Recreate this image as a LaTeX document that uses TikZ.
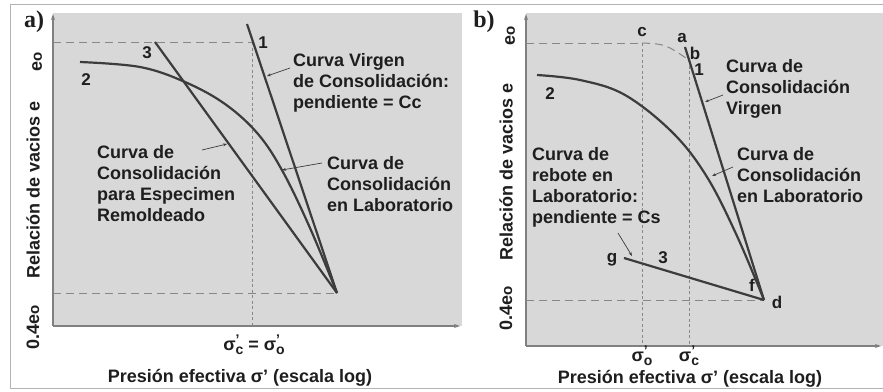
\documentclass[tikz,border=0pt]{standalone}
\usepackage{fontspec}
\setmainfont{Liberation Sans}
\newfontfamily\serifbold{Liberation Serif}
\usetikzlibrary{arrows.meta}
\definecolor{plotgray}{RGB}{216,216,216}
\definecolor{linegray}{RGB}{60,60,60}
\definecolor{dashgray}{RGB}{135,135,135}
\definecolor{textgray}{RGB}{30,30,30}
\newcommand{\smallsz}{\fontsize{14}{14}\selectfont}
\newcommand{\sigp}[1]{σ\makebox[0pt][l]{\raisebox{0.6ex}{\smallsz '}}\raisebox{-0.45ex}{\smallsz #1}}
\newcommand{\eo}{e{\fontsize{15}{15}\selectfont o}}

\begin{document}
\begin{tikzpicture}[x=1pt, y=-1pt, font=\fontsize{18}{21}\selectfont\bfseries, text=textgray,
  curve/.style={draw=linegray, line width=2.2pt},
  guide/.style={draw=dashgray, dash pattern=on 8pt off 5pt, line width=1pt},
  vguide/.style={draw=dashgray, dash pattern=on 3pt off 2.5pt, line width=0.9pt},
  pointer/.style={draw=linegray, line width=0.7pt, -{Stealth[length=4pt, width=3pt]}},
  axis/.style={draw=gray, line width=1.1pt, -{Stealth[length=6pt, width=4pt]}},
  lbl/.style={align=left, anchor=north west, inner sep=0pt},
  num/.style={inner sep=0pt, font=\fontsize{17}{19}\selectfont\bfseries},
  xlbl/.style={inner sep=0pt},
  panel/.style={inner sep=0pt, font=\fontsize{24}{26}\selectfont\serifbold\bfseries}]
\useasboundingbox (0,0) rectangle (883,391);
\fill[white] (0,0) rectangle (883,391);
\draw[gray!60, line width=0.8pt] (10,388) -- (10,4) -- (883,4);
\draw[gray!60, line width=0.8pt] (10,388) -- (883,388);

\fill[plotgray] (53,13) rectangle (462,326);
\fill[plotgray] (526,13) rectangle (883,346);

% a)
\node[panel] (pa) at (34,22) {a)};
\coordinate (oa) at (53,326);
\coordinate (ya) at (53,14);
\coordinate (xa) at (460,326);
\draw[axis] (oa) -- (ya);
\draw[axis] (oa) -- (xa);

\coordinate (ea) at (53,42);
\coordinate (eca) at (252,42);
\coordinate (sca) at (252,326);
\coordinate (la) at (53,293);
\coordinate (da) at (337,293);
\coordinate (vtopa) at (247,24);
\coordinate (rtopa) at (155,42);
\draw[guide] (ea) -- (eca);
\draw[vguide] (eca) -- (sca);
\draw[guide] (la) -- (da);

\draw[curve] (vtopa) -- (da);
\draw[curve] (rtopa) -- (da);
\draw[curve] plot[smooth, tension=0.6] coordinates {(80,62) (140,67) (185,82) (225,104) (258,134) (283,172) (310,228) (da)};

\node[num] (a1) at (263,43) {1};
\node[num] (a2) at (86,80) {2};
\node[num] (a3) at (147,53) {3};

\node[lbl] (virga) at (293,53) {Curva Virgen\\de Consolidación:\\pendiente = Cc};
\node[lbl] (remol) at (97,145) {Curva de\\Consolidación\\para Especimen\\Remoldeado};
\node[lbl] (laba) at (327,156) {Curva de\\Consolidación\\en Laboratorio};

\coordinate (pv1) at (290,68);
\coordinate (pv2) at (267,76);
\coordinate (pr1) at (202,150);
\coordinate (pr2) at (227,144);
\coordinate (pl1) at (322,163);
\coordinate (pl2) at (282,170);
\draw[pointer] (pv1) -- (pv2);
\draw[pointer] (pr1) -- (pr2);
\draw[pointer] (pl1) -- (pl2);

\node[rotate=90] (ylaba) at (33,190) {Relación de vacios e};
\node[rotate=90] (eoa) at (37,62) {\eo};
\node[rotate=90] (foura) at (33,327) {0.4\eo};
\node[xlbl] (sigsa) at (254,345) {\sigp{c} = \sigp{o}};
\node[xlbl] (xlaba) at (240,378) {Presión efectiva σ' (escala log)};

% b)
\node[panel] (pb) at (484,22) {b)};
\coordinate (ob) at (526,346);
\coordinate (yb) at (526,14);
\coordinate (xb) at (881,346);
\draw[axis] (ob) -- (yb);
\draw[axis] (ob) -- (xb);

\coordinate (eb) at (526,43);
\coordinate (pc) at (642,43);
\coordinate (pbb) at (689,60);
\coordinate (pa1) at (685,47);
\coordinate (pd) at (764,300);
\coordinate (pg) at (624,258);
\coordinate (lb) at (526,300);
\coordinate (sob) at (642,346);
\coordinate (scb) at (689,346);
\draw[guide] (eb) -- (pc);
\draw[guide] (pc) .. controls (665,44) .. (pbb);
\draw[vguide] (pc) -- (sob);
\draw[vguide] (pbb) -- (scb);
\draw[guide] (lb) -- (pd);

\draw[curve] (pa1) -- (pd);
\draw[curve] (pg) -- (pd);
\draw[curve] plot[smooth, tension=0.6] coordinates {(537,75) (580,80) (625,95) (673,133) (707,177) (737,236) (pd)};

\node[num] (lbla) at (682,38) {a};
\node[num] (lblb) at (695,53) {b};
\node[num] (b1) at (699,70) {1};
\node[num] (lblc) at (642,32) {c};
\node[num] (b2) at (550,94) {2};
\node[num] (b3) at (663,258) {3};
\node[num] (lblg) at (612,260) {g};
\node[num] (lblf) at (752,285) {f};
\node[num] (lbld) at (777,302) {d};

\node[lbl] (virgb) at (726,59) {Curva de\\Consolidación\\Virgen};
\node[lbl] (labb) at (737,147) {Curva de\\Consolidación\\en Laboratorio};
\node[lbl] (rebb) at (532,147) {Curva de\\rebote en\\Laboratorio:\\pendiente = Cs};

\coordinate (qv1) at (723,95);
\coordinate (qv2) at (705,102);
\coordinate (ql1) at (733,167);
\coordinate (ql2) at (712,176);
\coordinate (qr1) at (618,233);
\coordinate (qr2) at (632,256);
\draw[pointer] (qv1) -- (qv2);
\draw[pointer] (ql1) -- (ql2);
\draw[pointer] (qr1) -- (qr2);

\node[rotate=90] (ylabb) at (506,172) {Relación de vacios e};
\node[rotate=90] (eob) at (510,36) {\eo};
\node[rotate=90] (fourb) at (506,308) {0.4\eo};
\node[xlbl] (sigob) at (642,356) {\sigp{o}};
\node[xlbl] (sigcb) at (689,356) {\sigp{c}};
\node[xlbl] (xlabb) at (690,379) {Presión efectiva σ' (escala log)};
\end{tikzpicture}
\end{document}
